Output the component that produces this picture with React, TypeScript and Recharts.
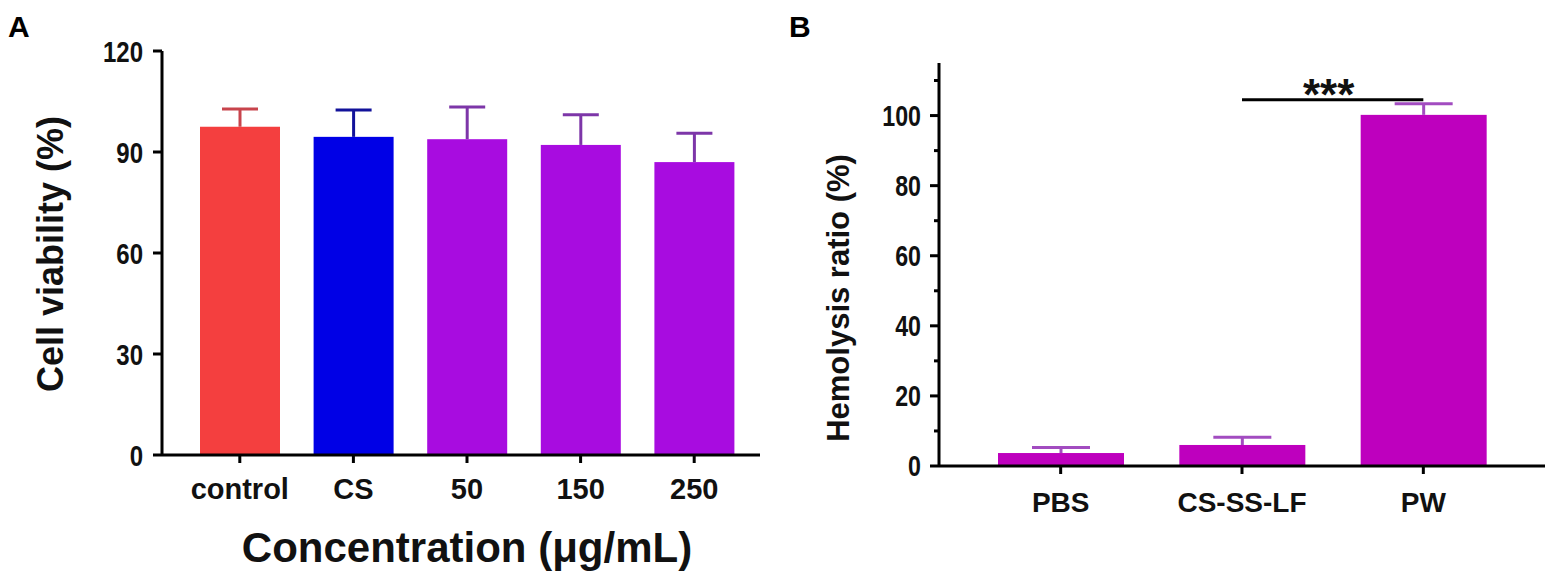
import React from 'react';
import { BarChart, Bar, XAxis, YAxis, Cell, ReferenceLine } from 'recharts';

// Panel A - cell viability
const viabilityGroups = ['control', 'CS', '50', '150', '250'];
const viabilityMeans = [97.5, 94.5, 93.8, 92.1, 87.0];
const viabilitySD = [5.3, 8.0, 9.6, 9.0, 8.6];
const viabilityTicks = [0, 30, 60, 90, 120];

// Panel B - hemolysis
const hemolysisGroups = ['PBS', 'CS-SS-LF', 'PW'];
const hemolysisMeans = [3.7, 6.0, 100.2];
const hemolysisSD = [1.6, 2.2, 3.2];
const hemolysisTicks = [0, 10, 20, 30, 40, 50, 60, 70, 80, 90, 100, 110];
const sigFrom = 'CS-SS-LF';
const sigTo = 'PW';
const sigLevel = 104.5;
const sigLabel = '***';

const viabilityColors = ['#F43F3F', '#0000E6', '#A80CE0', '#A80CE0', '#A80CE0'];
const viabilityErrColors = ['#C8444C', '#12129A', '#7D36A8', '#7D36A8', '#7D36A8'];
const hemolysisColor = '#BE00BE';
const hemolysisErrColor = '#A24CC0';

const FONT = '"Liberation Sans", Arial, sans-serif';

const viabilityData = viabilityGroups.map((g, i) => ({
  group: g,
  mean: viabilityMeans[i],
  sd: viabilitySD[i],
}));

const hemolysisData = hemolysisGroups.map((g, i) => ({
  group: g,
  mean: hemolysisMeans[i],
  sd: hemolysisSD[i],
}));

// bar with an upward-only error whisker (the lower half is hidden by the bar)
const makeBarShape = (errColors: string[] | string, capWidth: number) => (props: any) => {
  const { x, y, width, height, value, payload, fill, index } = props;
  const pxPerUnit = value ? height / value : 0;
  const top = y - payload.sd * pxPerUnit;
  const cx = x + width / 2;
  const errColor = Array.isArray(errColors) ? errColors[index] : errColors;
  return (
    <g>
      <rect x={x} y={y} width={width} height={height} fill={fill} />
      <line x1={cx} y1={y} x2={cx} y2={top} stroke={errColor} strokeWidth={3} />
      <line x1={cx - capWidth / 2} y1={top} x2={cx + capWidth / 2} y2={top} stroke={errColor} strokeWidth={3} />
    </g>
  );
};

// condensed y tick label (Prism-style narrow digits)
const NarrowLabel = ({ x, y, value, size }: { x: number; y: number; value: number; size: number }) => (
  <text
    transform={`translate(${x} ${y}) scale(0.8 1)`}
    x={0}
    y={0}
    dy="0.36em"
    textAnchor="end"
    fontSize={size}
    fontWeight="bold"
    fontFamily={FONT}
    fill="#111"
  >
    {value}
  </text>
);

const ViabilityTick = (props: any) => {
  const { x, y, payload } = props;
  return (
    <g>
      <line x1={x - 9} y1={y} x2={x} y2={y} stroke="#000" strokeWidth={3} />
      <NarrowLabel x={x - 19} y={y} value={payload.value} size={30} />
    </g>
  );
};

const HemolysisTick = (props: any) => {
  const { x, y, payload } = props;
  const major = payload.value % 20 === 0;
  return (
    <g>
      <line x1={x - (major ? 9 : 5)} y1={y} x2={x} y2={y} stroke="#000" strokeWidth={3} />
      {major && <NarrowLabel x={x - 18} y={y} value={payload.value} size={29} />}
    </g>
  );
};

const App: React.FC = () => {
  return (
    <div style={{ position: 'absolute', left: 0, top: 0, width: 1562, height: 575, background: '#fff', fontFamily: FONT }}>
      <div style={{ position: 'absolute', left: 8, top: 10, fontSize: 30, fontWeight: 'bold' }}>A</div>
      <div style={{ position: 'absolute', left: 789, top: 10, fontSize: 30, fontWeight: 'bold' }}>B</div>

      <div style={{ position: 'absolute', left: 0, top: 0 }}>
        <BarChart width={780} height={575} data={viabilityData} margin={{ top: 51, right: 20, bottom: 0, left: 0 }}>
          <XAxis
            dataKey="group"
            height={120}
            padding={{ left: 21, right: 9 }}
            axisLine={{ stroke: '#000', strokeWidth: 3 }}
            tickLine={{ stroke: '#000', strokeWidth: 3 }}
            tickSize={8}
            tickMargin={15}
            tick={{ fontSize: 29, fontWeight: 'bold', fill: '#111', fontFamily: FONT }}
            interval={0}
          />
          <YAxis
            width={162}
            domain={[0, 120]}
            ticks={viabilityTicks}
            axisLine={{ stroke: '#000', strokeWidth: 3 }}
            tickLine={false}
            tickSize={0}
            tickMargin={0}
            tick={<ViabilityTick />}
            interval={0}
          />
          <Bar dataKey="mean" barSize={80} isAnimationActive={false} shape={makeBarShape(viabilityErrColors, 36)}>
            {viabilityData.map((d, i) => (
              <Cell key={d.group} fill={viabilityColors[i]} />
            ))}
          </Bar>
          <text
            x={50}
            y={254}
            transform="rotate(-90 50 254)"
            textAnchor="middle"
            dominantBaseline="central"
            fontSize={36}
            fontWeight="bold"
            fontFamily={FONT}
            fill="#111"
          >
            Cell viability (%)
          </text>
          <text x={467} y={562} textAnchor="middle" fontSize={42} fontWeight="bold" fontFamily={FONT} fill="#111">
            Concentration (μg/mL)
          </text>
        </BarChart>
      </div>

      <div style={{ position: 'absolute', left: 780, top: 0 }}>
        <BarChart width={782} height={575} data={hemolysisData} margin={{ top: 63, right: 17, bottom: 0, left: 0 }}>
          <XAxis
            dataKey="group"
            height={109}
            padding={{ left: 31, right: 31 }}
            axisLine={{ stroke: '#000', strokeWidth: 3 }}
            tickLine={{ stroke: '#000', strokeWidth: 3 }}
            tickSize={8}
            tickMargin={18}
            tick={{ fontSize: 28, fontWeight: 'bold', fill: '#111', fontFamily: FONT }}
            interval={0}
          />
          <YAxis
            width={159}
            domain={[0, 115]}
            ticks={hemolysisTicks}
            axisLine={{ stroke: '#000', strokeWidth: 3 }}
            tickLine={false}
            tickSize={0}
            tickMargin={0}
            tick={<HemolysisTick />}
            interval={0}
          />
          <Bar dataKey="mean" barSize={126} fill={hemolysisColor} isAnimationActive={false} shape={makeBarShape(hemolysisErrColor, 58)} />
          <ReferenceLine
            segment={[{ x: sigFrom, y: sigLevel }, { x: sigTo, y: sigLevel }]}
            stroke="#000"
            strokeWidth={3}
            label={(p: any) => {
              const vb = p.viewBox || {};
              const cx = vb.x + (vb.width || 0) / 2;
              return (
                <text x={cx - 4} y={vb.y + 10} textAnchor="middle" fontSize={44} fontWeight="bold" fontFamily={FONT} fill="#111">
                  {sigLabel}
                </text>
              );
            }}
          />
          <text
            x={58}
            y={298}
            transform="rotate(-90 58 298)"
            textAnchor="middle"
            dominantBaseline="central"
            fontSize={31}
            fontWeight="bold"
            fontFamily={FONT}
            fill="#111"
          >
            Hemolysis ratio (%)
          </text>
        </BarChart>
      </div>
    </div>
  );
};

export default App;
